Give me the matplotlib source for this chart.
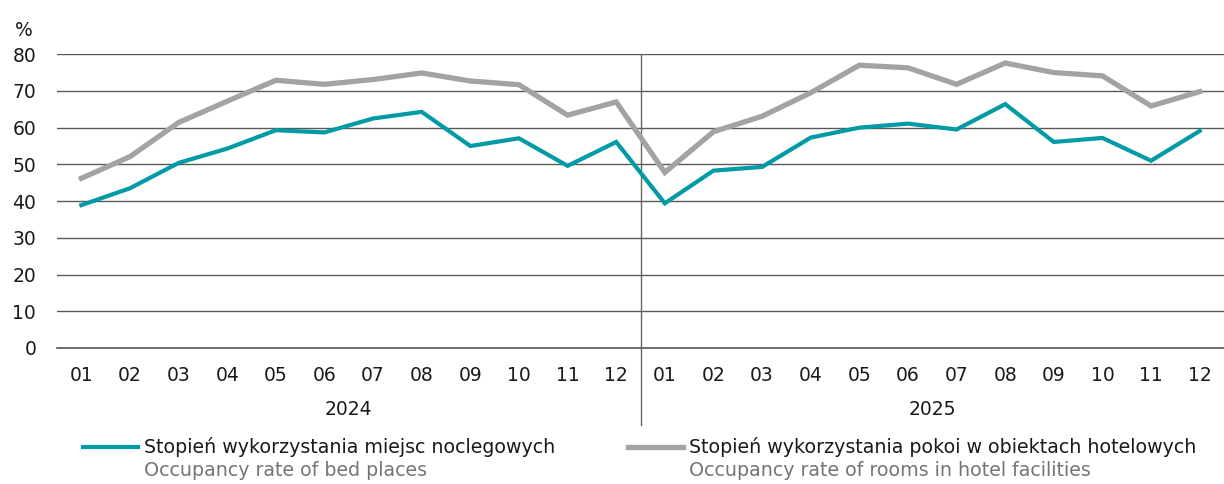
import matplotlib
matplotlib.use("Agg")
import matplotlib.pyplot as plt
from matplotlib.lines import Line2D
import numpy as np

plt.rcParams["font.family"] = ["DejaVu Sans"]

months = ["01", "02", "03", "04", "05", "06", "07", "08", "09", "10", "11", "12"]
years = ["2024", "2025"]

bed_places = [38.9, 43.5, 50.4, 54.3, 59.3, 58.7, 62.5, 64.3, 55.0, 57.1, 49.6, 56.1,
              39.4, 48.3, 49.3, 57.3, 60.0, 61.1, 59.5, 66.4, 56.1, 57.2, 51.0, 59.1]
hotel_rooms = [46.2, 52.1, 61.4, 67.2, 72.9, 71.8, 73.1, 74.9, 72.7, 71.7, 63.4, 67.0,
               47.8, 58.9, 63.1, 69.5, 77.0, 76.3, 71.8, 77.6, 75.0, 74.1, 65.9, 69.8]

label_pl = ["Stopień wykorzystania miejsc noclegowych",
            "Stopień wykorzystania pokoi w obiektach hotelowych"]
label_en = ["Occupancy rate of bed places",
            "Occupancy rate of rooms in hotel facilities"]

teal = "#009BA4"
gray = "#A3A3A3"
grid_c = "#595959"

fig = plt.figure(figsize=(12.24, 4.84), dpi=100)
ax = fig.add_axes([0.0466, 0.281, 0.9534, 0.607])

x = np.arange(len(bed_places))
ax.plot(x, hotel_rooms, color=gray, lw=3.8, solid_joinstyle="miter", zorder=3)
ax.plot(x, bed_places, color=teal, lw=3.0, solid_joinstyle="miter", zorder=4)

ax.set_xlim(-0.5, len(x) - 0.5)
ax.set_ylim(0, 80)
ax.set_yticks(range(0, 81, 10))
ax.yaxis.grid(True, color=grid_c, lw=1.0)
ax.set_axisbelow(True)
for s in ["top", "left", "right"]:
    ax.spines[s].set_visible(False)
ax.spines["bottom"].set_color(grid_c)
ax.spines["bottom"].set_linewidth(1.2)
ax.tick_params(axis="both", length=0, labelsize=13.5, colors="#1a1a1a")
ax.tick_params(axis="y", pad=15)
ax.tick_params(axis="x", pad=13)
ax.set_xticks(x)
ax.set_xticklabels(months * len(years))

# year labels and divider
for i, yr in enumerate(years):
    ax.text(i * 12 + 5.5, -0.211, yr, transform=ax.get_xaxis_transform(),
            ha="center", va="center", fontsize=13.5, color="#1a1a1a")
ax.plot([11.5, 11.5], [-0.262, 1.0], transform=ax.get_xaxis_transform(),
        color="#666666", lw=1.0, clip_on=False)

fig.text(0.012, 0.938, "%", fontsize=13.5, color="#1a1a1a", va="center")

# legend
for lx, c, lw, pl, en in [(0.068, teal, 3.0, label_pl[0], label_en[0]),
                          (0.513, gray, 3.8, label_pl[1], label_en[1])]:
    fig.add_artist(Line2D([lx, lx + 0.045], [0.077, 0.077], color=c, lw=lw,
                          transform=fig.transFigure))
    fig.text(lx + 0.05, 0.077, pl, fontsize=13.7, color="#1a1a1a", va="center")
    fig.text(lx + 0.05, 0.028, en, fontsize=13.7, color="#757575", va="center")

fig.savefig("out.png", dpi=100)
